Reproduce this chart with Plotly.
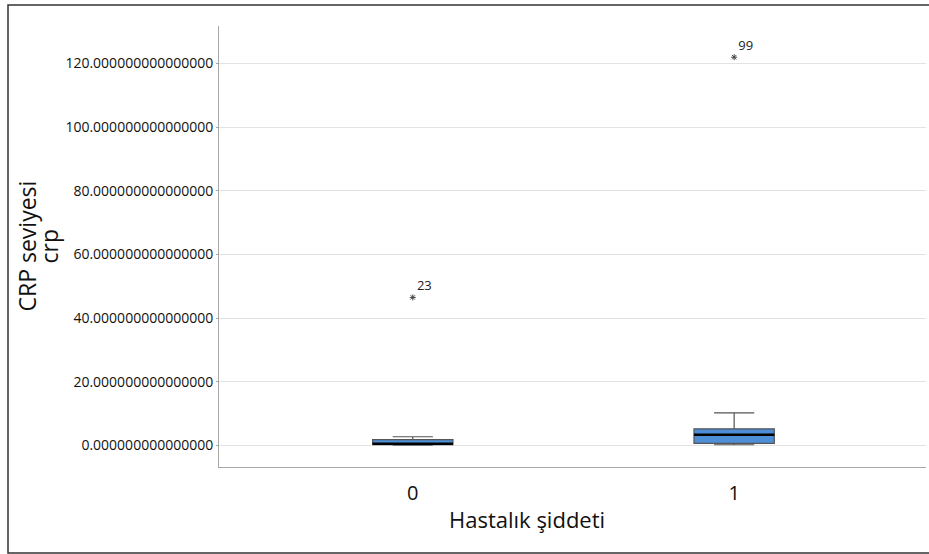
import plotly.graph_objects as go

# ---- data ----
categories = [0, 1]
category_labels = ["0", "1"]
q1 = [0.2, 0.6]
median = [0.5, 3.3]
q3 = [1.8, 5.2]
lower_whisker = [0.05, 0.2]
upper_whisker = [2.7, 10.2]
outlier_cat = [0, 1]
outlier_val = [46.5, 122.0]
outlier_id = ["23", "99"]
y_tickvals = [0, 20, 40, 60, 80, 100, 120]
y_ticklabels = [f"{v:.15f}" for v in y_tickvals]

BOX_WIDTH = 0.25
BOX_FILL = "#4d8fd6"
BOX_LINE = "#555555"

fig = go.Figure()

for i, c in enumerate(categories):
    fig.add_trace(go.Box(
        x=[c], q1=[q1[i]], median=[median[i]], q3=[q3[i]],
        lowerfence=[lower_whisker[i]], upperfence=[upper_whisker[i]],
        width=BOX_WIDTH, whiskerwidth=0.5,
        fillcolor=BOX_FILL, line=dict(color=BOX_LINE, width=1.2),
        showlegend=False, hoverinfo="skip",
    ))

# thick black median lines
mx, my = [], []
for i, c in enumerate(categories):
    mx += [c - BOX_WIDTH / 2, c + BOX_WIDTH / 2, None]
    my += [median[i], median[i], None]
fig.add_trace(go.Scatter(x=mx, y=my, mode="lines",
                         line=dict(color="black", width=2.5),
                         showlegend=False, hoverinfo="skip"))

# extreme outliers
fig.add_trace(go.Scatter(
    x=outlier_cat, y=outlier_val, mode="markers+text",
    marker=dict(symbol="asterisk-open", size=5, color="#444444",
                line=dict(color="#444444", width=1)),
    text=outlier_id, textposition="top right",
    textfont=dict(family="Open Sans, sans-serif", size=13, color="#222222"),
    showlegend=False, hoverinfo="skip",
))

fig.update_layout(
    width=929, height=554,
    margin=dict(l=219, r=3, t=26, b=87),
    paper_bgcolor="white", plot_bgcolor="white",
    font=dict(family="Open Sans, sans-serif", color="#111111"),
    xaxis=dict(
        range=[-0.603, 1.597], tickvals=categories, ticktext=category_labels,
        showgrid=False, zeroline=False, showline=True, linecolor="#a8a8a8", linewidth=1,
        ticks="", tickfont=dict(size=20, color="#111111"), ticklabelstandoff=8,
    ),
    yaxis=dict(
        range=[-6.8, 131.8], tickvals=y_tickvals, ticktext=y_ticklabels,
        showgrid=True, gridcolor="#e3e3e3", gridwidth=1, zeroline=False,
        showline=True, linecolor="#a8a8a8", linewidth=1,
        ticks="outside", ticklen=2, tickcolor="#a8a8a8",
        tickfont=dict(size=14, color="#111111"), ticklabelstandoff=0,
    ),
    shapes=[dict(type="rect", xref="paper", yref="paper",
                 x0=(8 - 219) / 707, x1=(935 - 219) / 707,
                 y0=-(553 - 467) / 441, y1=1 + (26 - 5) / 441,
                 line=dict(color="#333333", width=1.5), fillcolor="rgba(0,0,0,0)",
                 layer="below")],
    annotations=[
        dict(text="Hastalık şiddeti", xref="paper", yref="paper",
             x=(527 - 219) / 707, y=-(519 - 467) / 441, xanchor="center", yanchor="middle",
             showarrow=False, font=dict(size=22, color="#111111")),
        dict(text="CRP seviyesi", xref="paper", yref="paper", textangle=-90,
             x=(26 - 219) / 707, y=0.5, xanchor="center", yanchor="middle",
             showarrow=False, font=dict(size=23, color="#111111")),
        dict(text="crp", xref="paper", yref="paper", textangle=-90,
             x=(48 - 219) / 707, y=0.5, xanchor="center", yanchor="middle",
             showarrow=False, font=dict(size=23, color="#111111")),
    ],
)

fig.write_html("out.html", config={"displayModeBar": False},
               post_script="document.body.style.margin='0';")
